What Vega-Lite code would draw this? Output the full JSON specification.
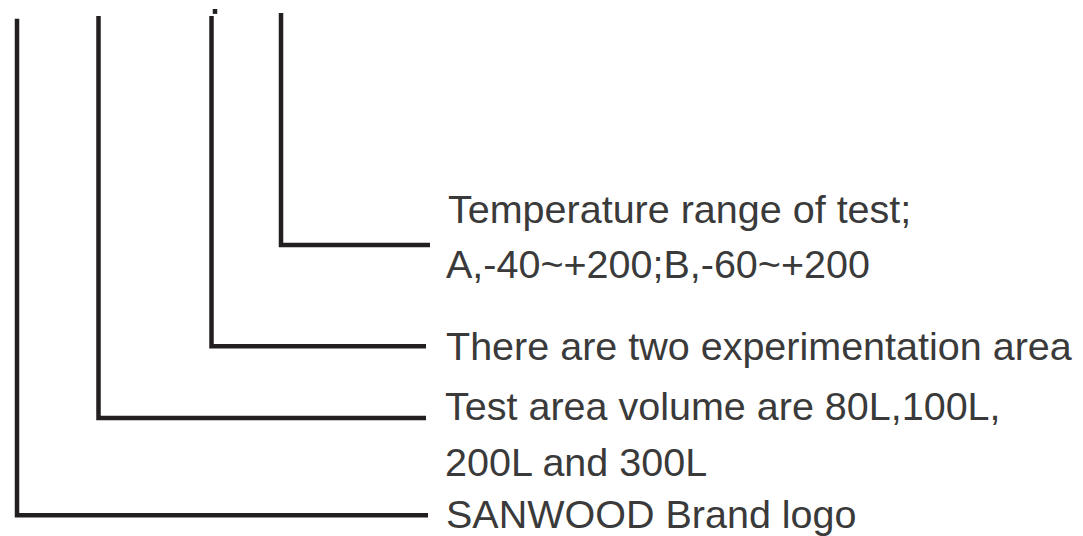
{
  "$schema": "https://vega.github.io/schema/vega-lite/v6.json",
  "width": 1083,
  "height": 536,
  "padding": 0,
  "autosize": {"type": "fit", "contains": "padding"},
  "background": "white",
  "config": {"view": {"stroke": null}},
  "datasets": {
    "paths": [
      {"id": "logo", "seq": 1, "px": 17, "py": 10},
      {"id": "logo", "seq": 2, "px": 17, "py": 515},
      {"id": "logo", "seq": 3, "px": 428, "py": 515},
      {"id": "volume", "seq": 1, "px": 98.5, "py": 7},
      {"id": "volume", "seq": 2, "px": 98.5, "py": 416},
      {"id": "volume", "seq": 3, "px": 426, "py": 416},
      {"id": "areas", "seq": 1, "px": 211.5, "py": 7},
      {"id": "areas", "seq": 2, "px": 211.5, "py": 343},
      {"id": "areas", "seq": 3, "px": 426, "py": 343},
      {"id": "tick", "seq": 1, "px": 215, "py": 0},
      {"id": "tick", "seq": 2, "px": 215, "py": 5},
      {"id": "temp", "seq": 1, "px": 281, "py": 4},
      {"id": "temp", "seq": 2, "px": 281, "py": 240},
      {"id": "temp", "seq": 3, "px": 430, "py": 240}
    ],
    "labels": [
      {"label": "Temperature range of test;", "tx": 448, "ty": 218},
      {"label": "A,-40~+200;B,-60~+200", "tx": 446, "ty": 274},
      {"label": "There are two experimentation area", "tx": 446, "ty": 357},
      {"label": "Test area volume are 80L,100L,", "tx": 445, "ty": 418},
      {"label": "200L and 300L", "tx": 445, "ty": 475},
      {"label": "SANWOOD Brand logo", "tx": 446, "ty": 528}
    ]
  },
  "layer": [
    {
      "data": {"name": "paths"},
      "mark": {"type": "line", "color": "#231f20", "strokeWidth": 4.5, "strokeJoin": "miter", "strokeCap": "butt"},
      "encoding": {
        "x": {"field": "px", "type": "quantitative", "scale": {"domain": [0, 1083], "nice": false, "zero": false}, "axis": null},
        "y": {"field": "py", "type": "quantitative", "scale": {"domain": [0, 536], "nice": false, "zero": false, "reverse": true}, "axis": null},
        "detail": {"field": "id"},
        "order": {"field": "seq", "type": "quantitative"}
      }
    },
    {
      "data": {"name": "labels"},
      "mark": {"type": "text", "align": "left", "baseline": "alphabetic", "font": "Liberation Sans", "fontSize": 39.5, "color": "#3a3a3a"},
      "encoding": {
        "x": {"field": "tx", "type": "quantitative", "scale": {"domain": [0, 1083], "nice": false, "zero": false}, "axis": null},
        "y": {"field": "ty", "type": "quantitative", "scale": {"domain": [0, 536], "nice": false, "zero": false, "reverse": true}, "axis": null},
        "text": {"field": "label"}
      }
    }
  ]
}
